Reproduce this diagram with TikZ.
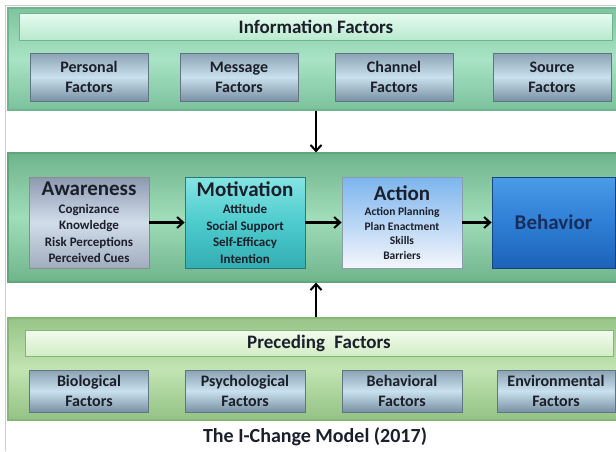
\documentclass[tikz,border=0pt]{standalone}
\usepackage{fontspec}
\setmainfont{Carlito}
\usetikzlibrary{arrows.meta}

\definecolor{infoPanel}{HTML}{A8E4C5}
\definecolor{infoEdge}{HTML}{6DB58F}
\definecolor{midPanel}{HTML}{A0DDB9}
\definecolor{midEdge}{HTML}{5FA67D}
\definecolor{precPanel}{HTML}{C2E4B2}
\definecolor{precEdge}{HTML}{84B675}
\definecolor{infoHead}{HTML}{CBF6DE}
\definecolor{precHead}{HTML}{E0F6D3}
\definecolor{boxTop}{HTML}{8AA2B3}
\definecolor{boxMid}{HTML}{C9E0EE}
\definecolor{boxBot}{HTML}{7991A3}
\definecolor{awTop}{HTML}{8C99B0}
\definecolor{awMid}{HTML}{D2DDEA}
\definecolor{awBot}{HTML}{A1ACBD}
\definecolor{motTop}{HTML}{86E4E4}
\definecolor{motMid}{HTML}{4DCBCD}
\definecolor{motBot}{HTML}{33AEB2}
\definecolor{actTop}{HTML}{7CB5EE}
\definecolor{actBot}{HTML}{F4F6FB}
\definecolor{behTop}{HTML}{4A9BE8}
\definecolor{behMid}{HTML}{2E7FD6}
\definecolor{behBot}{HTML}{1C62B8}
\definecolor{inkDark}{HTML}{1B1F2A}
\definecolor{inkBlue}{HTML}{1A2D5A}

\newcommand{\stagetitle}{\fontsize{21}{23}\selectfont}

\tikzset{
  frame/.style={draw=black!20, line width=0.8pt},
  panel/.style={shape=rectangle, draw=#1, line width=1.2pt, minimum height=102pt, minimum width=614pt},
  headbar/.style={shape=rectangle, draw=#1, line width=0.8pt, minimum height=27pt, text=inkDark, font=\bfseries\fontsize{19}{21}\selectfont},
  factor/.style={shape=rectangle, draw=boxBot!80!black, line width=0.6pt, minimum width=118pt, minimum height=48pt, top color=boxTop, bottom color=boxBot, middle color=boxMid, text=inkDark, align=center, font=\bfseries\fontsize{16}{20}\selectfont},
  stage/.style={shape=rectangle, draw=#1, line width=0.8pt, minimum width=120pt, minimum height=91pt, text=inkDark, align=center, font=\bfseries\fontsize{13}{16.5}\selectfont},
  flow/.style={-{Straight Barb[length=6pt, width=11pt, line width=2pt]}, line width=2.4pt, black}
}

\begin{document}
\begin{tikzpicture}[x=1pt, y=-1pt]
\useasboundingbox (0,0) rectangle (616,451);
\draw[frame] (5,451) |- (616,5);

% information factors
\node[panel=infoEdge, top color=infoEdge!70!infoPanel, bottom color=infoEdge!75!infoPanel, middle color=infoPanel] (p_info) at (315,59) {};
\node[headbar=infoEdge, minimum width=593pt, top color=infoHead!50!white, bottom color=infoHead!80!infoEdge] (h_info) at (316,27) {Information Factors};
\node[factor] (i_1) at (89,77) {Personal\\Factors};
\node[factor] (i_2) at (239,77) {Message\\Factors};
\node[factor] (i_3) at (394,77) {Channel\\Factors};
\node[factor] (i_4) at (552,77) {Source\\Factors};

% stages
\node[panel=midEdge, minimum height=129pt, top color=midEdge!75!midPanel, bottom color=midEdge!75!midPanel, middle color=midPanel] (p_mid) at (315,217.5) {};
\node[stage=black!45, top color=awTop, bottom color=awBot, middle color=awMid] (s_1) at (89,222.5) {{\stagetitle Awareness}\\[1pt]Cognizance\\Knowledge\\Risk Perceptions\\Perceived Cues};
\node[stage=motBot!70!black, top color=motTop, bottom color=motBot, middle color=motMid] (s_2) at (245,222.5) {{\stagetitle Motivation}\\[1pt]Attitude\\Social Support\\Self-Efficacy\\Intention};
\node[stage=actTop!50!black!60, top color=actTop, bottom color=actBot, font=\bfseries\fontsize{11.5}{14.5}\selectfont] (s_3) at (402,222.5) {{\stagetitle Action}\\[1pt]Action Planning\\Plan Enactment\\Skills\\Barriers};
\node[stage=behBot!70!black, minimum width=123pt, top color=behTop, bottom color=behBot, middle color=behMid, text=inkBlue, font=\bfseries\fontsize{21}{23}\selectfont] (s_4) at (553.5,222.5) {Behavior};

\draw[flow] (s_1) -- (s_2);
\draw[flow] (s_2) -- (s_3);
\draw[flow] (s_3) -- (s_4);

% preceding factors
\node[panel=precEdge, top color=precEdge!70!precPanel, bottom color=precEdge!75!precPanel, middle color=precPanel] (p_prec) at (315,369) {};
\node[headbar=precEdge, minimum width=588pt, minimum height=26pt, top color=precHead!40!white, bottom color=precHead!85!precEdge] (h_prec) at (319,343) {Preceding\enspace Factors};
\node[factor, minimum height=42pt, minimum width=119pt] (b_1) at (89,391) {Biological\\Factors};
\node[factor, minimum height=42pt, minimum width=120pt] (b_2) at (245,391) {Psychological\\Factors};
\node[factor, minimum height=42pt, minimum width=120pt] (b_3) at (402,391) {Behavioral\\Factors};
\node[factor, minimum height=42pt, minimum width=118pt] (b_4) at (556,391) {Environmental\\Factors};

\draw[flow] (p_info.south -| h_info.center) -- (p_mid.north -| h_info.center);
\draw[flow] (p_prec.north -| h_info.center) -- (p_mid.south -| h_info.center);

\node[text=inkDark, font=\bfseries\fontsize{20}{22}\selectfont] (t_model) at (315,437) {The I-Change Model (2017)};
\end{tikzpicture}
\end{document}
